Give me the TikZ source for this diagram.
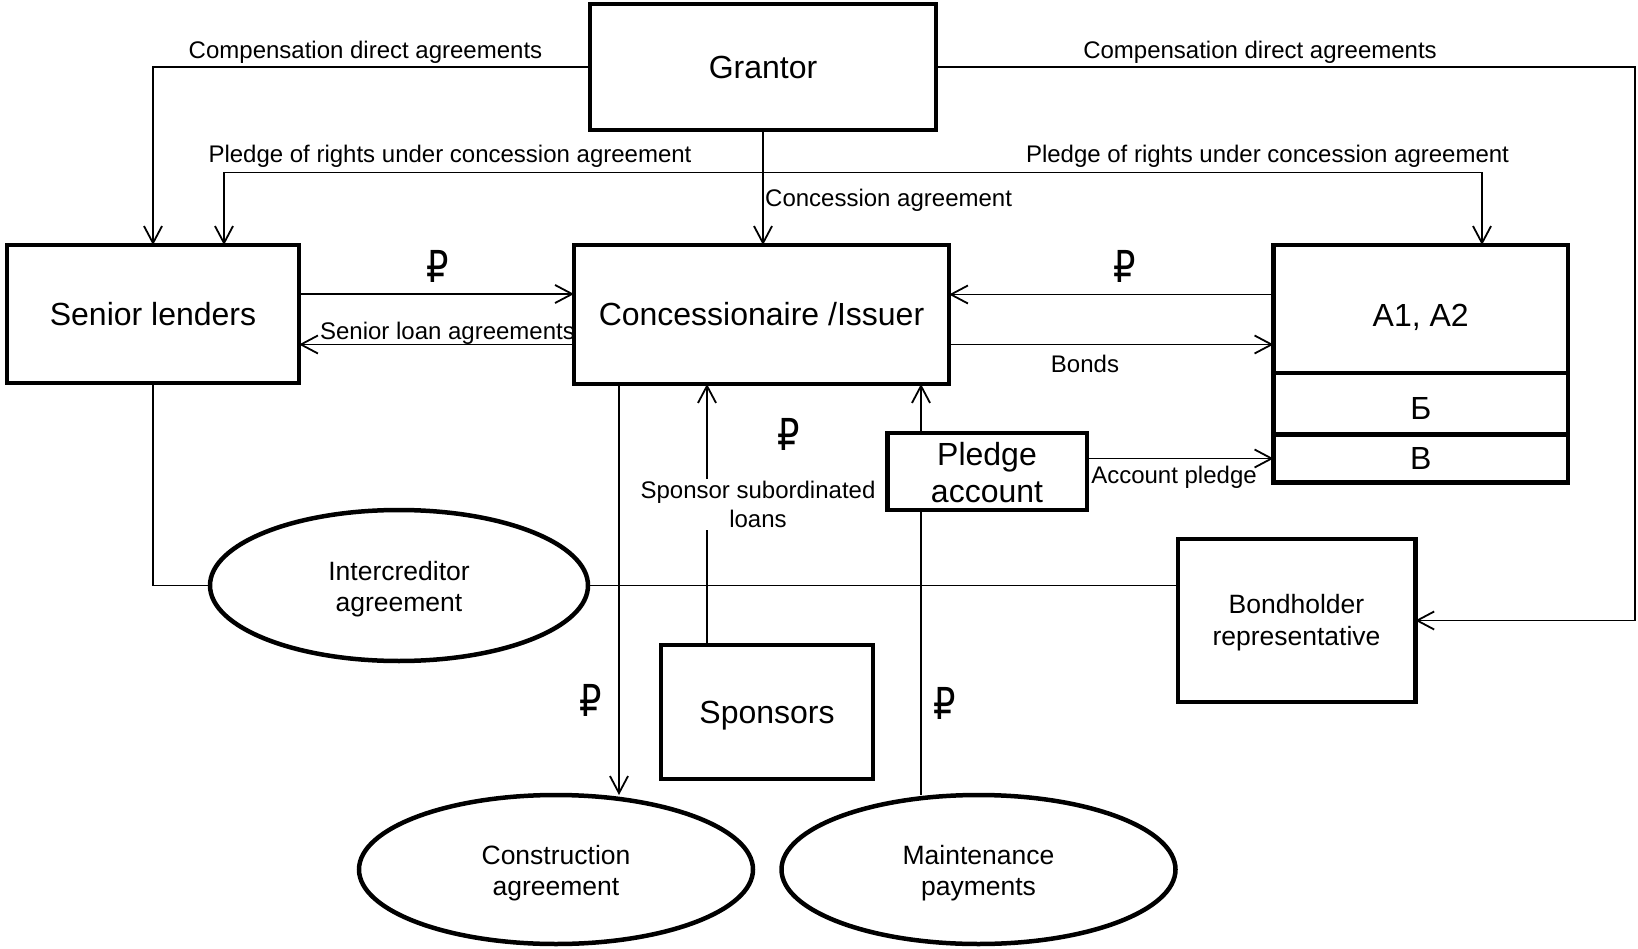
\documentclass[tikz,border=0pt]{standalone}
\usepackage{fontspec}
\setmainfont{Liberation Sans}
\newfontfamily\rubfont{DejaVu Sans}
\usepackage{graphicx}
\usetikzlibrary{arrows.meta,calc,shapes.geometric}
\begin{document}
\begin{tikzpicture}[x=1pt,y=-1pt,
  >={Straight Barb[length=17pt,width=18pt]},
  box/.style={draw,line width=4.5pt,rectangle,inner sep=0pt,outer sep=0pt,align=center},
  oval/.style={draw,line width=4.5pt,ellipse,inner sep=0pt,outer sep=0pt},
  big/.style={font=\fontsize{32}{37}\selectfont},
  mid/.style={font=\fontsize{26.5}{31}\selectfont,inner sep=0pt,anchor=base},
  lbl/.style={font=\fontsize{24}{28.5}\selectfont,inner sep=0pt},
  rub/.style={font=\rubfont\fontsize{44}{44}\selectfont,inner sep=0pt,anchor=base},
  conn/.style={line width=1.8pt},
  arr/.style={conn,->}]
\useasboundingbox (0,0) rectangle (1638,949);

% boxes
\node[box,big,minimum width=346pt,minimum height=126pt] (grantor) at (763,67) {Grantor};
\node[box,big,minimum width=292pt,minimum height=138pt] (senior) at (153,314) {Senior lenders};
\node[box,big,minimum width=375pt,minimum height=139pt] (conc) at (761.5,314.5) {Concessionaire /Issuer};
\node[box,minimum width=294.5pt,minimum height=128pt] (a1) at (1420.75,309) {};
\node[big,inner sep=0pt] (a1t) at ($(a1.center)+(0,8)$) {A1, A2};
\node[box,big,minimum width=294.5pt,minimum height=61.5pt,text height=31pt,text depth=0pt] (b) at (1420.75,403.75) {Б};
\node[box,big,minimum width=294.5pt,minimum height=48pt] (v) at (1420.75,458.5) {В};
\node[box,minimum width=199.5pt,minimum height=77pt] (pledge) at (987,471.5) {};
\node[big,inner sep=0pt,anchor=base] (pledge1) at (987,465) {Pledge};
\node[big,inner sep=0pt,anchor=base] (pledge2) at (987,502) {account};
\node[box,big,minimum width=212pt,minimum height=134pt,text depth=0pt] (spons) at (767,712) {Sponsors};
\node[box,minimum width=237.5pt,minimum height=163pt] (bond) at (1296.5,620.5) {};
\node[mid] (bond1) at (1296.5,613.3) {Bondholder};
\node[mid] (bond2) at (1296.5,645.8) {representative};
\node[oval,minimum width=378pt,minimum height=151pt] (inter) at (399,585.5) {};
\node[mid] (inter1) at (399,580.7) {Intercreditor};
\node[mid] (inter2) at (399,611.7) {agreement};
\node[oval,minimum width=394pt,minimum height=149pt] (constr) at (556,869.5) {};
\node[mid] (constr1) at (556,864.6) {Construction};
\node[mid] (constr2) at (556,895.5) {agreement};
\node[oval,minimum width=394pt,minimum height=149pt] (maint) at (978.5,869.5) {};
\node[mid] (maint1) at (978.5,864.6) {Maintenance};
\node[mid] (maint2) at (978.5,895.5) {payments};

% helper coordinates
\coordinate (rx) at (1635,0);
\coordinate (pl) at (224,172.5);
\coordinate (pr) at (1482,172.5);
\coordinate (cx) at (619,0);
\coordinate (sx) at (707,0);
\coordinate (px) at (921,0);

\node[lbl,align=center,inner sep=2pt] (sptext) at (758,504.5) {Sponsor subordinated\\loans};

% connectors
\draw[arr] (grantor.west) -| (senior.north);
\draw[arr] (grantor.east) -- (grantor.east -| rx) |- (bond.east);
\draw[arr] (grantor.south) -- (conc.north -| grantor.south);
\draw[conn,<->] (senior.north -| pl) -- (pl) -- (pr) -- (a1.north -| pr);
\draw[arr] ([yshift=20pt]senior.east) -- ([yshift=20pt]senior.east -| conc.west);
\draw[arr] ([yshift=-30pt]conc.west) -- ([yshift=-30pt]conc.west -| senior.east);
\draw[arr] ([yshift=20pt]conc.east -| a1.west) -- ([yshift=20pt]conc.east);
\draw[arr] ([yshift=-30pt]conc.east) -- ([yshift=-30pt]conc.east -| a1.west);
\draw[arr] (pledge.east |- v.west) -- (v.west);
\draw[arr] (conc.south -| cx) -- (constr.north -| cx);
\draw[conn] (spons.north -| sx) -- (sptext.south -| sx);
\draw[arr] (sptext.north -| sx) -- (conc.south -| sx);
\draw[arr] (pledge.north -| px) -- (conc.south -| px);
\draw[conn] (maint.north -| px) -- (pledge.south -| px);
\draw[conn] (senior.south) |- (inter.west);
\draw[conn] (inter.east) -- (inter.east -| bond.west);

% labels
\node[lbl,anchor=base] (lc1) at (365.5,59) {Compensation direct agreements};
\node[lbl,anchor=base] (lc2) at (1260,59) {Compensation direct agreements};
\node[lbl,anchor=base] (lp1) at (450,163) {Pledge of rights under concession agreement};
\node[lbl,anchor=base] (lp2) at (1267.5,163) {Pledge of rights under concession agreement};
\node[lbl,anchor=base west] (lca) at (765,207) {Concession agreement};
\node[lbl,anchor=base] (lsl) at (447.5,340) {Senior loan agreements};
\node[lbl,anchor=base] (lbo) at (1085,373) {Bonds};
\node[lbl,anchor=base] (lap) at (1174,483) {Account pledge};

% rouble signs
\node[rub] (r1) at (438,283) {\scalebox{0.8}[1]{₽}};
\node[rub] (r2) at (1125,283) {\scalebox{0.8}[1]{₽}};
\node[rub] (r3) at (789,450.5) {\scalebox{0.8}[1]{₽}};
\node[rub] (r4) at (591,716) {\scalebox{0.8}[1]{₽}};
\node[rub] (r5) at (944.5,719) {\scalebox{0.8}[1]{₽}};
\end{tikzpicture}
\end{document}
